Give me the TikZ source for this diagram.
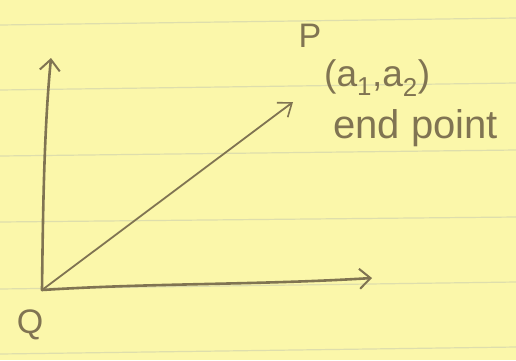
\documentclass[tikz,border=0pt]{standalone}
\usepackage{fontspec}
\setmainfont{Liberation Sans}
\usetikzlibrary{arrows.meta}
\definecolor{paper}{RGB}{251,247,170}
\definecolor{rule}{RGB}{222,222,172}
\definecolor{ink}{RGB}{128,116,82}
\tikzset{
  ruled/.style={draw=rule, line width=1.2pt},
  axis/.style={draw=ink, line width=2.6pt, line cap=round, -{Straight Barb[length=11pt,width=20pt,line width=2pt]}},
  vec/.style={draw=ink, line width=1.8pt, line cap=round, -{Straight Barb[length=12pt,width=18pt,line width=1.6pt]}},
  hand/.style={text=ink, inner sep=0pt, font=\fontsize{34}{38}\selectfont},
  bighand/.style={hand, font=\fontsize{40}{44}\selectfont},
  midhand/.style={hand, font=\fontsize{37}{40}\selectfont}
}
\begin{document}
\begin{tikzpicture}[x=1pt,y=-1pt]
\fill[paper] (0,0) rectangle (516,360);
\useasboundingbox (0,0) rectangle (516,360);
\foreach \yl/\yr in {25/18, 90/83, 156/150, 222/217, 289/282, 354/347}
  \draw[ruled] (0,\yl) -- (516,\yr);
\coordinate (O) at (42,290);
\coordinate (Y) at (51,58);
\coordinate (X) at (372,278);
\coordinate (T) at (293,102);
\draw[axis] (O) .. controls (43,210) and (44,130) .. (Y);
\draw[axis] (O) .. controls (150,283) and (260,285) .. (X);
\draw[vec] (O) -- (T);
\node[hand] (Q) at (30,325) {Q};
\node[hand] (P) at (310,36) {P};
\node[midhand, anchor=west] (C) at (324,78) {(a\textsubscript{1},a\textsubscript{2})};
\node[bighand, anchor=west] (E) at (333,128) {end point};
\end{tikzpicture}
\end{document}
